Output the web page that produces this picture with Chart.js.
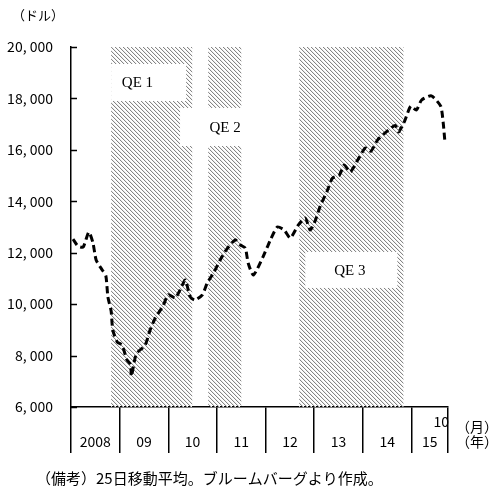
<!DOCTYPE html>
<html>
<head>
<meta charset="utf-8">
<script src="https://cdn.jsdelivr.net/npm/chart.js@4.4.1/dist/chart.umd.min.js"></script>
<style>
  html, body { margin: 0; padding: 0; background: #fff; }
  #wrap { width: 503px; height: 495px; position: relative; }
</style>
</head>
<body>
<div id="wrap"><canvas id="chart"></canvas></div>
<script>
// months counted from Jan 2008 (0 = start of 2008)
const months = [0.5, 1.7, 3.0, 4.4, 5.4, 6.2, 7.7, 8.6, 9.1, 9.9, 10.3, 11.4, 12.6, 13.8, 14.7, 14.9, 16.1,
  18.3, 19.5, 20.8, 22.7, 24.0, 25.7, 26.9, 28.2, 29.4, 30.6, 32.4, 33.6, 35.3, 36.8, 38.3, 40.5,
  41.8, 43.0, 43.7, 45.0, 47.4, 49.2, 50.9, 52.6, 54.1, 56.1, 57.8, 59.0, 60.3, 61.5, 63.2, 64.5,
  66.2, 67.4, 68.9, 70.7, 72.6, 74.0, 75.6, 78.3, 80.0, 80.8, 82.3, 83.8, 85.2, 86.5, 88.9, 91.2, 91.8, 92.2];
// Dow 25-day moving average (dollars)
const dowValues = [12530, 12260, 12220, 12800, 12400, 11720, 11330, 11100, 10280, 9730, 9000, 8530, 8410, 7830, 7650, 7200, 8060,
  8410, 8990, 9460, 9930, 10370, 10240, 10550, 10940, 10280, 10160, 10360, 10820, 11250, 11720, 12110, 12500,
  12300, 12180, 11600, 11130, 11850, 12500, 13000, 12880, 12570, 13080, 13350, 12880, 13270, 13820, 14400, 14900,
  15020, 15410, 15140, 15600, 16070, 15950, 16380, 16770, 16950, 16700, 17120, 17700, 17550, 17940, 18100, 17700, 17080, 16380];

const yearLabels = ['2008', '09', '10', '11', '12', '13', '14', '15'];
const yearStarts = [0, 12, 24, 36, 48, 60, 72, 84];
const axisEnd = 93;
const yTicks = [6000, 8000, 10000, 12000, 14000, 16000, 18000, 20000];

const qeNames = ['QE 1', 'QE 2', 'QE 3'];
const qeStart = [9.9, 33.85, 56.3];
const qeEnd = [29.9, 42.0, 82.0];

// label boxes (months / dollars) cut out of the hatching
const qeBoxes = [
  { x0: 9.9, x1: 28.4, y0: 17900, y1: 19340, tx: 16.4, ty: 18610 },
  { x0: 26.9, x1: 43.7, y0: 16150, y1: 17630, tx: 38.0, ty: 16840 },
  { x0: 57.8, x1: 80.5, y0: 10630, y1: 12030, tx: 68.8, ty: 11290 }
];

const jpFont = '"Noto Sans CJK JP", "Noto Sans", sans-serif';

function fmt(v) {
  const s = String(v);
  return s.length > 3 ? s.slice(0, -3) + ', ' + s.slice(-3) : s;
}

const qePlugin = {
  id: 'qe',
  beforeDatasetsDraw(chart) {
    const { ctx, scales: { x, y } } = chart;
    const tile = document.createElement('canvas');
    tile.width = tile.height = 4;
    const g = tile.getContext('2d');
    for (let i = 0; i < 4; i++) {
      g.fillStyle = '#858585';
      g.fillRect(i, i, 1, 1);
      g.fillStyle = '#ececec';
      g.fillRect((i + 1) % 4, i, 1, 1);
    }
    const pat = ctx.createPattern(tile, 'repeat');

    ctx.save();
    ctx.fillStyle = pat;
    const top = y.getPixelForValue(20000), bot = y.getPixelForValue(6000);
    for (let i = 0; i < qeStart.length; i++) {
      const a = x.getPixelForValue(qeStart[i]), b = x.getPixelForValue(qeEnd[i]);
      ctx.fillRect(a, top, b - a, bot - top);
    }
    ctx.fillStyle = '#fff';
    qeBoxes.forEach(bx => {
      const a = x.getPixelForValue(bx.x0), b = x.getPixelForValue(bx.x1);
      const t = y.getPixelForValue(bx.y1), u = y.getPixelForValue(bx.y0);
      ctx.fillRect(a, t, b - a, u - t);
    });
    ctx.fillStyle = '#000';
    ctx.font = '15px "Liberation Serif", "DejaVu Serif", serif';
    ctx.textAlign = 'center';
    ctx.textBaseline = 'middle';
    qeBoxes.forEach((bx, i) => {
      ctx.fillText(qeNames[i], x.getPixelForValue(bx.tx), y.getPixelForValue(bx.ty));
    });
    ctx.restore();
  },
  afterDraw(chart) {
    const { ctx, scales: { x, y } } = chart;
    ctx.save();
    // inward ticks on y axis
    ctx.strokeStyle = '#000';
    ctx.lineWidth = 1.5;
    const left = x.getPixelForValue(0);
    yTicks.forEach(v => {
      const py = Math.round(y.getPixelForValue(v)) + 0.5;
      ctx.beginPath();
      ctx.moveTo(left, py);
      ctx.lineTo(left + 6, py);
      ctx.stroke();
    });
    ctx.fillStyle = '#000';
    ctx.font = '14px ' + jpFont;
    ctx.textAlign = 'center';
    ctx.textBaseline = 'middle';
    const ly = y.getPixelForValue(6000) + 35;
    yearStarts.forEach((s, i) => {
      const e = Math.min(s + 12, axisEnd);
      ctx.fillText(yearLabels[i], x.getPixelForValue((s + e) / 2), ly);
    });
    ctx.textAlign = 'right';
    ctx.fillText('10', x.getPixelForValue(axisEnd) + 1, ly - 20);
    ctx.textAlign = 'left';
    ctx.font = '14px ' + jpFont;
    ctx.fillText('（月）', 456, ly - 15);
    ctx.fillText('（年）', 456, ly);
    ctx.font = '13px ' + jpFont;
    ctx.fillText('（ドル）', 12, 15);
    ctx.font = '15px ' + jpFont;
    ctx.fillText('（備考）25日移動平均。ブルームバーグより作成。', 36, 478);
    ctx.restore();
  }
};

new Chart(document.getElementById('chart'), {
  type: 'line',
  data: {
    datasets: [{
      data: months.map((m, i) => ({ x: m, y: dowValues[i] })),
      borderColor: '#000',
      borderWidth: 3,
      borderDash: [7, 4],
      pointRadius: 0,
      tension: 0.2,
      fill: false
    }]
  },
  options: {
    responsive: true,
    maintainAspectRatio: false,
    animation: false,
    layout: { padding: { top: 47, right: 55, left: 0, bottom: 0 } },
    plugins: { legend: { display: false }, tooltip: { enabled: false } },
    scales: {
      x: {
        type: 'linear',
        min: 0,
        max: axisEnd,
        afterBuildTicks: s => { s.ticks = yearStarts.concat([axisEnd]).map(v => ({ value: v })); },
        afterFit: s => { s.height = 88; },
        ticks: { display: false },
        grid: { drawOnChartArea: false, drawTicks: true, tickLength: 46, color: '#000', lineWidth: 1.5 },
        border: { display: true, color: '#000', width: 1.5 }
      },
      y: {
        min: 6000,
        max: 20000,
        afterBuildTicks: s => { s.ticks = yTicks.map(v => ({ value: v })); },
        afterFit: s => { s.width = 71; },
        ticks: {
          color: '#000',
          padding: 18,
          font: { size: 14, family: jpFont },
          callback: v => fmt(v)
        },
        grid: { drawOnChartArea: false, drawTicks: false },
        border: { display: true, color: '#000', width: 1.5 }
      }
    }
  },
  plugins: [qePlugin]
});
</script>
</body>
</html>
